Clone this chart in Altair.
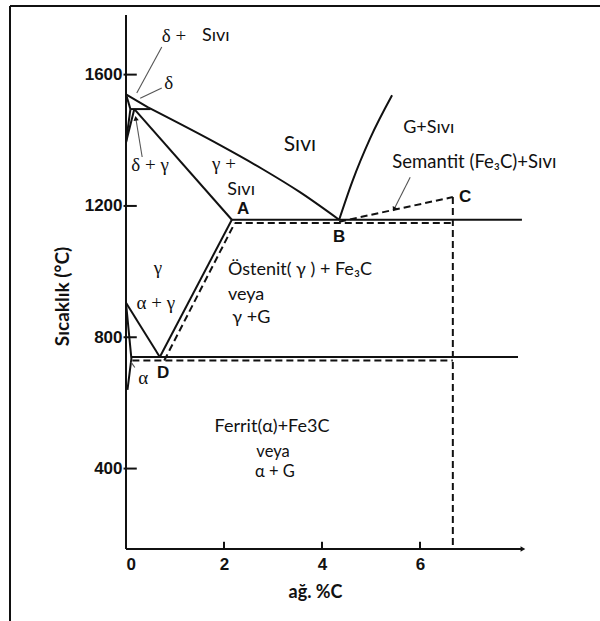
import altair as alt
import pandas as pd

# ---- phase boundaries of the Fe-C system, (wt% C, temperature in °C) ----
# stable (graphite) system: solid lines
delta_liquidus = [(0.0, 1540), (0.45, 1500)]
liquidus = [(0.45, 1500), (1.92, 1385), (2.8, 1311), (3.55, 1242), (4.35, 1158)]
delta_solidus = [(0.0, 1540), (0.09, 1495)]
peritectic = [(0.09, 1495), (0.5, 1495)]
delta_gamma_left = [(0.09, 1495), (0.0, 1394)]
delta_gamma_right = [(0.17, 1495), (0.0, 1394)]
gamma_solidus = [(0.17, 1495), (2.16, 1158)]
graphite_liquidus = [(4.35, 1158), (4.62, 1275), (4.98, 1405), (5.43, 1537)]
eutectic_graphite = [(2.16, 1158), (8.08, 1158)]
eutectoid_graphite = [(0.11, 740), (8.0, 740)]
a3_line = [(0.0, 905), (0.69, 740)]
acm_graphite = [(0.69, 740), (2.16, 1158)]
alpha_boundary = [(0.0, 905), (0.11, 735), (0.03, 640)]

# metastable (cementite) system: dashed lines
cementite_liquidus = [(4.35, 1152), (6.67, 1227)]
cementite_vertical = [(6.67, 1227), (6.67, 155)]
eutectic_cementite = [(2.22, 1148), (6.67, 1148)]
eutectoid_cementite = [(0.13, 729), (6.67, 729)]
acm_cementite = [(0.78, 729), (2.22, 1148)]

# label leader lines
leader_delta_liquid = [(0.73, 1684), (0.22, 1544)]
leader_delta = [(0.73, 1559), (0.29, 1528)]
leader_delta_gamma = [(0.33, 1349), (0.2, 1467)]
leader_cementite = [(5.8, 1287), (5.47, 1190)]
leader_alpha = [(0.18, 708), (0.1, 725)]

# axes
x_tick_values = [0, 2, 4, 6]
y_tick_values = [400, 800, 1200, 1600]
x_min, x_max = 0.0, 8.204
y_min, y_max = 155.0, 1781.6
x_axis_end = 8.1

# region labels: (x, y, text)
labels_serif_center = [
    (0.49, 1325, "δ + γ"),
    (2.0, 1327, "γ +"),
    (0.65, 1010, "γ"),
    (0.61, 904, "α + γ"),
    (0.35, 676, "α"),
]
labels_serif_left = [
    (0.73, 1718, "δ +"),
    (0.78, 1574, "δ"),
]
labels_sans_center = [
    (2.35, 1248, "Sıvı", 18),
    (6.18, 1437, "G+Sıvı", 18),
    (7.11, 1333, "Semantit (Fe₃C)+Sıvı", 18.5),
    (2.98, 528, "Ferrit(α)+Fe3C", 18),
    (3.0, 451, "veya", 16.5),
    (3.04, 389, "α + G", 16.5),
]
labels_sans_left = [
    (1.55, 1718, "Sıvı", 18),
    (2.08, 1004, "Östenit( γ ) + Fe₃C", 18),
    (2.08, 928, "veya", 18),
    (2.17, 858, "γ +G", 18),
]
label_liquid = [(3.55, 1385, "Sıvı")]
point_letters = [
    (2.39, 1190, "A"),
    (4.35, 1105, "B"),
    (6.92, 1227, "C"),
    (0.76, 691, "D"),
]


def segments(named):
    rows = []
    for name, pts in named.items():
        for i, (x, y) in enumerate(pts):
            rows.append({"seg": name, "i": i, "x": x, "y": y})
    return pd.DataFrame(rows)


solid_df = segments({
    "delta_liquidus": delta_liquidus,
    "delta_solidus": delta_solidus, "peritectic": peritectic,
    "dg_left": delta_gamma_left, "dg_right": delta_gamma_right,
    "gamma_solidus": gamma_solidus,
    "eutectic": eutectic_graphite, "eutectoid": eutectoid_graphite,
    "a3": a3_line, "acm": acm_graphite, "alpha": alpha_boundary,
})
curve_df = segments({
    "liquidus": liquidus, "graphite_liquidus": graphite_liquidus,
})
dashed_df = segments({
    "cem_liq": cementite_liquidus, "cem_vert": cementite_vertical,
    "cem_eut": eutectic_cementite, "cem_eutd": eutectoid_cementite,
    "cem_acm": acm_cementite,
})
leader_df = segments({
    "l1": leader_delta_liquid, "l2": leader_delta, "l3": leader_delta_gamma,
    "l4": leader_cementite, "l5": leader_alpha,
})
axis_df = segments({
    "yaxis": [(0.0, y_min), (0.0, y_max)],
    "xaxis": [(0.0, y_min), (x_axis_end, y_min)],
})

x_enc = alt.X(
    "x:Q",
    scale=alt.Scale(domain=[x_min, x_max], nice=False, zero=False),
    axis=alt.Axis(
        values=x_tick_values, domain=False, ticks=False, grid=False, format="d",
        labelFont="Liberation Sans", labelFontSize=17, labelFontWeight="bold",
        labelColor="#111", labelPadding=7,
        title="ağ. %C", titleFont="Lato", titleFontSize=18,
        titleFontWeight="bold", titleColor="#111",
        titleX=189, titleY=43, titleBaseline="middle", titleAlign="center",
    ),
)
y_enc = alt.Y(
    "y:Q",
    scale=alt.Scale(domain=[y_min, y_max], nice=False, zero=False),
    axis=alt.Axis(
        values=y_tick_values, domain=False, ticks=False, grid=False, format="d",
        labelFont="Liberation Sans", labelFontSize=17, labelFontWeight="bold",
        labelColor="#111", labelPadding=4,
        title="Sıcaklık (°C)", titleFont="Lato", titleFontSize=19,
        titleFontWeight="bold", titleColor="#111",
        titleX=-64, titleY=281, titleAngle=270,
        titleBaseline="middle", titleAlign="center",
    ),
)

axes = alt.Chart(axis_df).mark_line(color="#111", strokeWidth=2).encode(
    x=x_enc, y=y_enc, detail="seg:N", order="i:Q"
)

arrow = alt.Chart(pd.DataFrame({"x": [x_axis_end], "y": [y_min]})).mark_point(
    shape="triangle-right", filled=True, size=30, color="#111", opacity=1
).encode(x="x:Q", y="y:Q")

x_ticks = alt.Chart(pd.DataFrame({"x": x_tick_values[1:]})).mark_rule(
    color="#111", strokeWidth=2
).encode(x="x:Q", y=alt.datum(y_min), y2=alt.datum(y_min + 22))

y_ticks = alt.Chart(pd.DataFrame({"y": y_tick_values})).mark_rule(
    color="#111", strokeWidth=2
).encode(y="y:Q", x=alt.datum(-0.05), x2=alt.datum(0.22))

solid = alt.Chart(solid_df).mark_line(
    color="#111", strokeWidth=2, strokeJoin="miter"
).encode(x="x:Q", y="y:Q", detail="seg:N", order="i:Q")

curves = alt.Chart(curve_df).mark_line(
    color="#111", strokeWidth=2, interpolate="monotone"
).encode(x="x:Q", y="y:Q", detail="seg:N", order="i:Q")

dashed = alt.Chart(dashed_df).mark_line(
    color="#111", strokeWidth=2, strokeDash=[7, 4], strokeCap="butt"
).encode(x="x:Q", y="y:Q", detail="seg:N", order="i:Q")

leaders = alt.Chart(leader_df).mark_line(
    color="#555", strokeWidth=1.1
).encode(x="x:Q", y="y:Q", detail="seg:N", order="i:Q")

heads = alt.Chart(pd.DataFrame({
    "x": [leader_delta_gamma[1][0], leader_cementite[1][0]],
    "y": [leader_delta_gamma[1][1], leader_cementite[1][1]],
    "ang": [351, 207],
})).mark_point(shape="triangle-up", filled=True, size=28, color="#111",
               opacity=1).encode(x="x:Q", y="y:Q", angle=alt.Angle("ang:Q", scale=None))


def text_df(rows, with_size=False):
    if with_size:
        return pd.DataFrame(rows, columns=["x", "y", "text", "size"])
    return pd.DataFrame(rows, columns=["x", "y", "text"])


serif_c = alt.Chart(text_df(labels_serif_center)).mark_text(
    font="Liberation Serif", fontSize=19, color="#111", align="center", baseline="middle"
).encode(x="x:Q", y="y:Q", text="text:N")

serif_l = alt.Chart(text_df(labels_serif_left)).mark_text(
    font="Liberation Serif", fontSize=19, color="#111", align="left", baseline="middle"
).encode(x="x:Q", y="y:Q", text="text:N")

sans_c = alt.Chart(text_df(labels_sans_center, True)).mark_text(
    font="Lato", color="#111", align="center", baseline="middle"
).encode(x="x:Q", y="y:Q", text="text:N", size=alt.Size("size:Q", scale=None))

sans_l = alt.Chart(text_df(labels_sans_left, True)).mark_text(
    font="Lato", color="#111", align="left", baseline="middle"
).encode(x="x:Q", y="y:Q", text="text:N", size=alt.Size("size:Q", scale=None))

liquid = alt.Chart(text_df(label_liquid)).mark_text(
    font="Lato", fontSize=21, color="#111", align="center", baseline="middle"
).encode(x="x:Q", y="y:Q", text="text:N")

letters = alt.Chart(text_df(point_letters)).mark_text(
    font="Liberation Sans", fontSize=17, fontWeight="bold", color="#111",
    align="center", baseline="middle"
).encode(x="x:Q", y="y:Q", text="text:N")

# page frame along the top and left edges
frame_top = alt.Chart(pd.DataFrame({"k": [0]})).mark_rule(
    color="#111", strokeWidth=2
).encode(x=alt.value(-116), x2=alt.value(474), y=alt.value(-9))
frame_left = alt.Chart(pd.DataFrame({"k": [0]})).mark_rule(
    color="#111", strokeWidth=2
).encode(x=alt.value(-116), y=alt.value(-9), y2=alt.value(606))

chart = alt.layer(
    axes, arrow, x_ticks, y_ticks, solid, curves, dashed, leaders, heads,
    serif_c, serif_l, sans_c, sans_l, liquid, letters, frame_top, frame_left,
).properties(
    width=402, height=534,
    autosize=alt.AutoSizeParams(type="none"),
    padding={"left": 126, "top": 15, "right": 72, "bottom": 72},
    background="white",
).configure_view(stroke=None)

chart.save("out.html", embed_options={"renderer": "svg", "actions": False})
